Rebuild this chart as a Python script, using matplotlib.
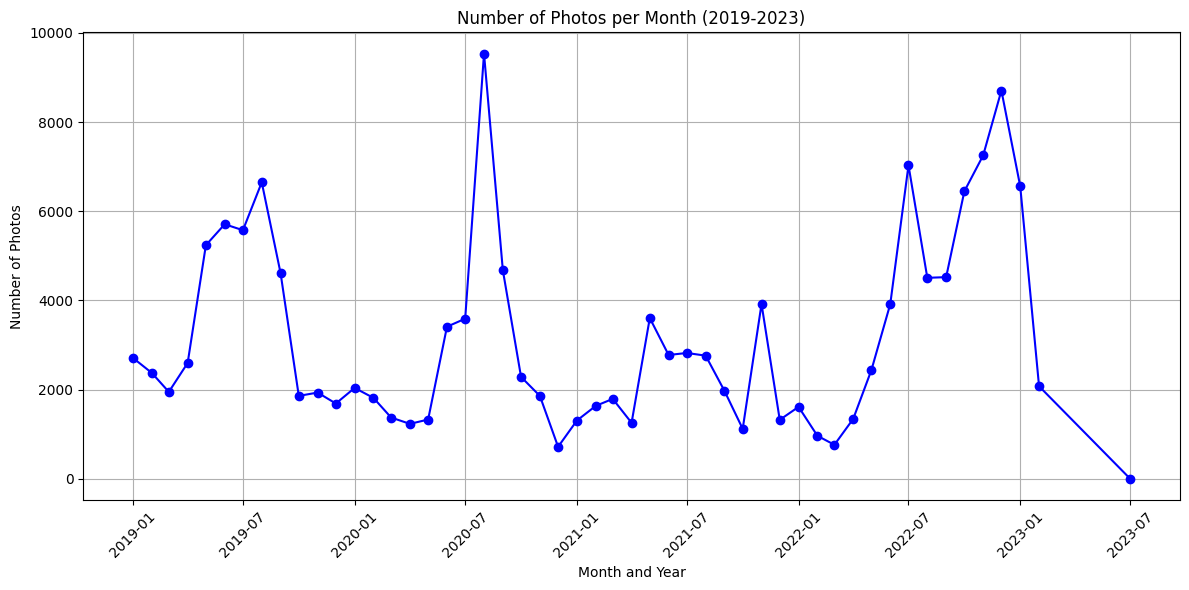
import matplotlib
matplotlib.use("Agg")
import matplotlib.pyplot as plt
import matplotlib.dates as mdates
import pandas as pd

months = (pd.date_range("2019-01-01", "2023-02-01", freq="MS").strftime("%Y-%m").tolist()
          + ["2023-07"])
photos = [2709, 2373, 1948, 2597, 5239, 5709, 5575, 6649, 4612, 1858, 1933, 1687,
          2037, 1813, 1373, 1231, 1328, 3410, 3590, 9537, 4679, 2284, 1858, 716,
          1306, 1634, 1791, 1254, 3604, 2776, 2821, 2761, 1970, 1119, 3918, 1321,
          1612, 963, 761, 1343, 2440, 3918, 7030, 4507, 4522, 6448, 7254, 8709,
          6560, 2075, 0]

dates = pd.to_datetime(months, format="%Y-%m")

fig, ax = plt.subplots(figsize=(12, 6), dpi=100)
ax.plot(dates, photos, marker="o", linestyle="-", color="b")
ax.set_title("Number of Photos per Month (2019-2023)")
ax.set_xlabel("Month and Year")
ax.set_ylabel("Number of Photos")
ax.xaxis.set_major_locator(mdates.MonthLocator(bymonth=[1, 7]))
ax.xaxis.set_major_formatter(mdates.DateFormatter("%Y-%m"))
plt.xticks(rotation=45)
ax.grid(True)
plt.tight_layout()
plt.savefig("out.png", dpi=100, bbox_inches="tight")
